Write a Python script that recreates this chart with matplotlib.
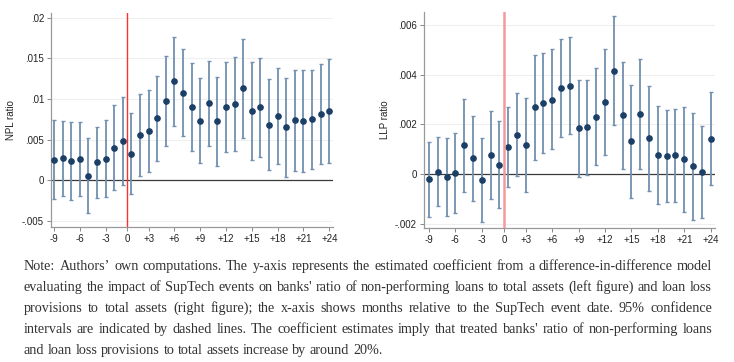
import numpy as np
import matplotlib.pyplot as plt

# months relative to event (0 is the omitted reference period)
months = list(range(-9, 0)) + list(range(1, 25))

npl_coef = [0.0025, 0.0027, 0.00234, 0.00262, 0.00053, 0.00221, 0.00266, 0.00398, 0.00484,
            0.00328, 0.00553, 0.00607, 0.00762, 0.00975, 0.01217, 0.01078, 0.00902, 0.0073,
            0.00947, 0.0073, 0.00902, 0.00934, 0.01131, 0.00857, 0.00898, 0.00684, 0.00787,
            0.00656, 0.00742, 0.00734, 0.0075, 0.00816, 0.00852]
npl_hi = [0.00738, 0.00734, 0.00713, 0.00721, 0.00516, 0.0066, 0.00738, 0.00922, 0.01029,
          0.00824, 0.01057, 0.01111, 0.01283, 0.01525, 0.01762, 0.01611, 0.01447, 0.01254,
          0.01467, 0.0127, 0.01451, 0.01512, 0.01742, 0.01459, 0.01508, 0.01246, 0.01381,
          0.01258, 0.01361, 0.01357, 0.01361, 0.01434, 0.01492]
npl_lo = [-0.00238, -0.00193, -0.00242, -0.00197, -0.00406, -0.00217, -0.00205, -0.00127, -0.00066,
          -0.00168, 0.00049, 0.00098, 0.00238, 0.00422, 0.00664, 0.00545, 0.00361, 0.00205,
          0.00422, 0.0018, 0.00352, 0.00361, 0.00516, 0.0025, 0.00283, 0.00123, 0.00193,
          0.00041, 0.00107, 0.00102, 0.00131, 0.00197, 0.00213]

llp_coef = [-0.00019, 0.00011, -0.00011, 0.00005, 0.00118, 0.00064, -0.00023, 0.00076, 0.00039,
            0.0011, 0.00158, 0.00119, 0.00269, 0.00288, 0.003, 0.00347, 0.00356, 0.00185,
            0.00188, 0.00232, 0.00291, 0.00415, 0.00237, 0.00133, 0.00242, 0.00146, 0.00079,
            0.00074, 0.00076, 0.0006, 0.00032, 0.00009, 0.00142]
llp_hi = [0.0013, 0.00151, 0.00145, 0.00165, 0.00304, 0.00233, 0.00147, 0.00253, 0.00212,
          0.00272, 0.00326, 0.00308, 0.0048, 0.00489, 0.00505, 0.00543, 0.00551, 0.0038,
          0.00378, 0.00427, 0.00505, 0.00635, 0.00451, 0.00359, 0.00462, 0.00355, 0.00276,
          0.00259, 0.00264, 0.00271, 0.00245, 0.00192, 0.0033]
llp_lo = [-0.0017, -0.00127, -0.00167, -0.00154, -0.0007, -0.00107, -0.00192, -0.00099, -0.00135,
          -0.00051, -0.00009, -0.00071, 0.00059, 0.00086, 0.00102, 0.00151, 0.00161, -0.00012,
          -0.00004, 0.00039, 0.00076, 0.00196, 0.00021, -0.00096, 0.00023, -0.00068, -0.00119,
          -0.00111, -0.0011, -0.00151, -0.00184, -0.00174, -0.00043]

xtick_months = [-9, -6, -3, 0, 3, 6, 9, 12, 15, 18, 21, 24]
npl_yticks = [-0.005, 0, 0.005, 0.01, 0.015, 0.02]
llp_yticks = [-0.002, 0, 0.002, 0.004, 0.006]

note_lines = [
    "Note: Authors\u2019 own computations. The y-axis represents the estimated coefficient from a difference-in-difference model",
    "evaluating the impact of SupTech events on banks' ratio of non-performing loans to total assets (left figure) and loan loss",
    "provisions to total assets (right figure); the x-axis shows months relative to the SupTech event date. 95% confidence",
    "intervals are indicated by dashed lines. The coefficient estimates imply that treated banks' ratio of non-performing loans",
    "and loan loss provisions to total assets increase by around 20%.",
]


def to_pos(m):
    # the reference month 0 is dropped, so it sits between -1 and +1
    if m < 0:
        return m
    if m == 0:
        return -0.5
    return m - 1


def tick_label(m):
    return f"+{m}" if m > 0 else str(m)


def ylab(v):
    if v == 0:
        return "0"
    s = f"{v:g}"
    return s.replace("0.", ".")


plt.rcParams['font.family'] = ['Liberation Sans', 'DejaVu Sans']

W, H = 734, 362
fig = plt.figure(figsize=(W / 100, H / 100), dpi=100)
ax1 = fig.add_axes([51 / W, 1 - 227 / H, (333 - 51) / W, (227 - 13) / H])
ax2 = fig.add_axes([424 / W, 1 - 228 / H, (715 - 424) / W, (228 - 12) / H])

panels = [
    (ax1, npl_coef, npl_lo, npl_hi, npl_yticks, "NPL ratio", (-0.00578, 0.0206), (-9.35, 23.43), '#ff3030', 1.0),
    (ax2, llp_coef, llp_lo, llp_hi, llp_yticks, "LLP ratio", (-0.00216, 0.00652), (-9.57, 23.49), '#f59a9a', 1.8),
]

pos = np.array([to_pos(m) for m in months])
for ax, coef, lo, hi, yt, lab, ylim, xlim, red, redw in panels:
    coef = np.array(coef)
    err = [coef - np.array(lo), np.array(hi) - coef]
    for y in yt:
        if y != 0:
            ax.axhline(y, color='#efefef', lw=0.8, zorder=0)
    ax.axhline(0, color='#3a3a3a', lw=0.9, zorder=1)
    ax.axvline(-0.5, color=red, lw=redw, zorder=4)
    ax.errorbar(pos, coef, yerr=err, fmt='o', color='#1b3f66', ms=3.8,
                ecolor='#7290b0', elinewidth=1.3, capsize=1.7, capthick=1.0, zorder=3)
    ax.set_xlim(*xlim)
    ax.set_ylim(*ylim)
    ax.set_xticks([to_pos(m) for m in xtick_months])
    ax.set_xticklabels([tick_label(m) for m in xtick_months])
    ax.set_yticks(yt)
    ax.set_yticklabels([ylab(v) for v in yt])
    ax.set_ylabel(lab, fontsize=7, color='#222222', labelpad=4)
    ax.tick_params(labelsize=7, colors='#222222', length=3, width=0.7, color='#888888', pad=2)
    for s in ['top', 'right']:
        ax.spines[s].set_visible(False)
    for s in ['left', 'bottom']:
        ax.spines[s].set_color('#999999')
        ax.spines[s].set_linewidth(0.9)

# justified note below the panels
fig.canvas.draw()
r = fig.canvas.get_renderer()
x0, x1 = 24, 712

# pick a size so the first line nearly fills the width with normal spacing
probe = fig.text(0, 0, note_lines[0], family='Liberation Serif', size=10)
nat = probe.get_window_extent(r).width
probe.remove()
size = 10 * (x1 - x0) / nat * 0.985

font = dict(family='Liberation Serif', size=size, color='#333333')
for i, line in enumerate(note_lines):
    y = H - (270 + i * 20.9)
    words = line.split(" ")
    texts = [fig.text(0, 0, w, va='baseline', ha='left', **font) for w in words]
    widths = [t.get_window_extent(r).width for t in texts]
    if i < len(note_lines) - 1:
        gap = (x1 - x0 - sum(widths)) / (len(words) - 1)
    else:
        sp = fig.text(0, 0, "a a", **font)
        aa = fig.text(0, 0, "aa", **font)
        gap = sp.get_window_extent(r).width - aa.get_window_extent(r).width
        sp.remove()
        aa.remove()
    x = x0
    for t, w in zip(texts, widths):
        t.set_position((x / W, y / H))
        x += w + gap

fig.savefig("out.png", dpi=100)
